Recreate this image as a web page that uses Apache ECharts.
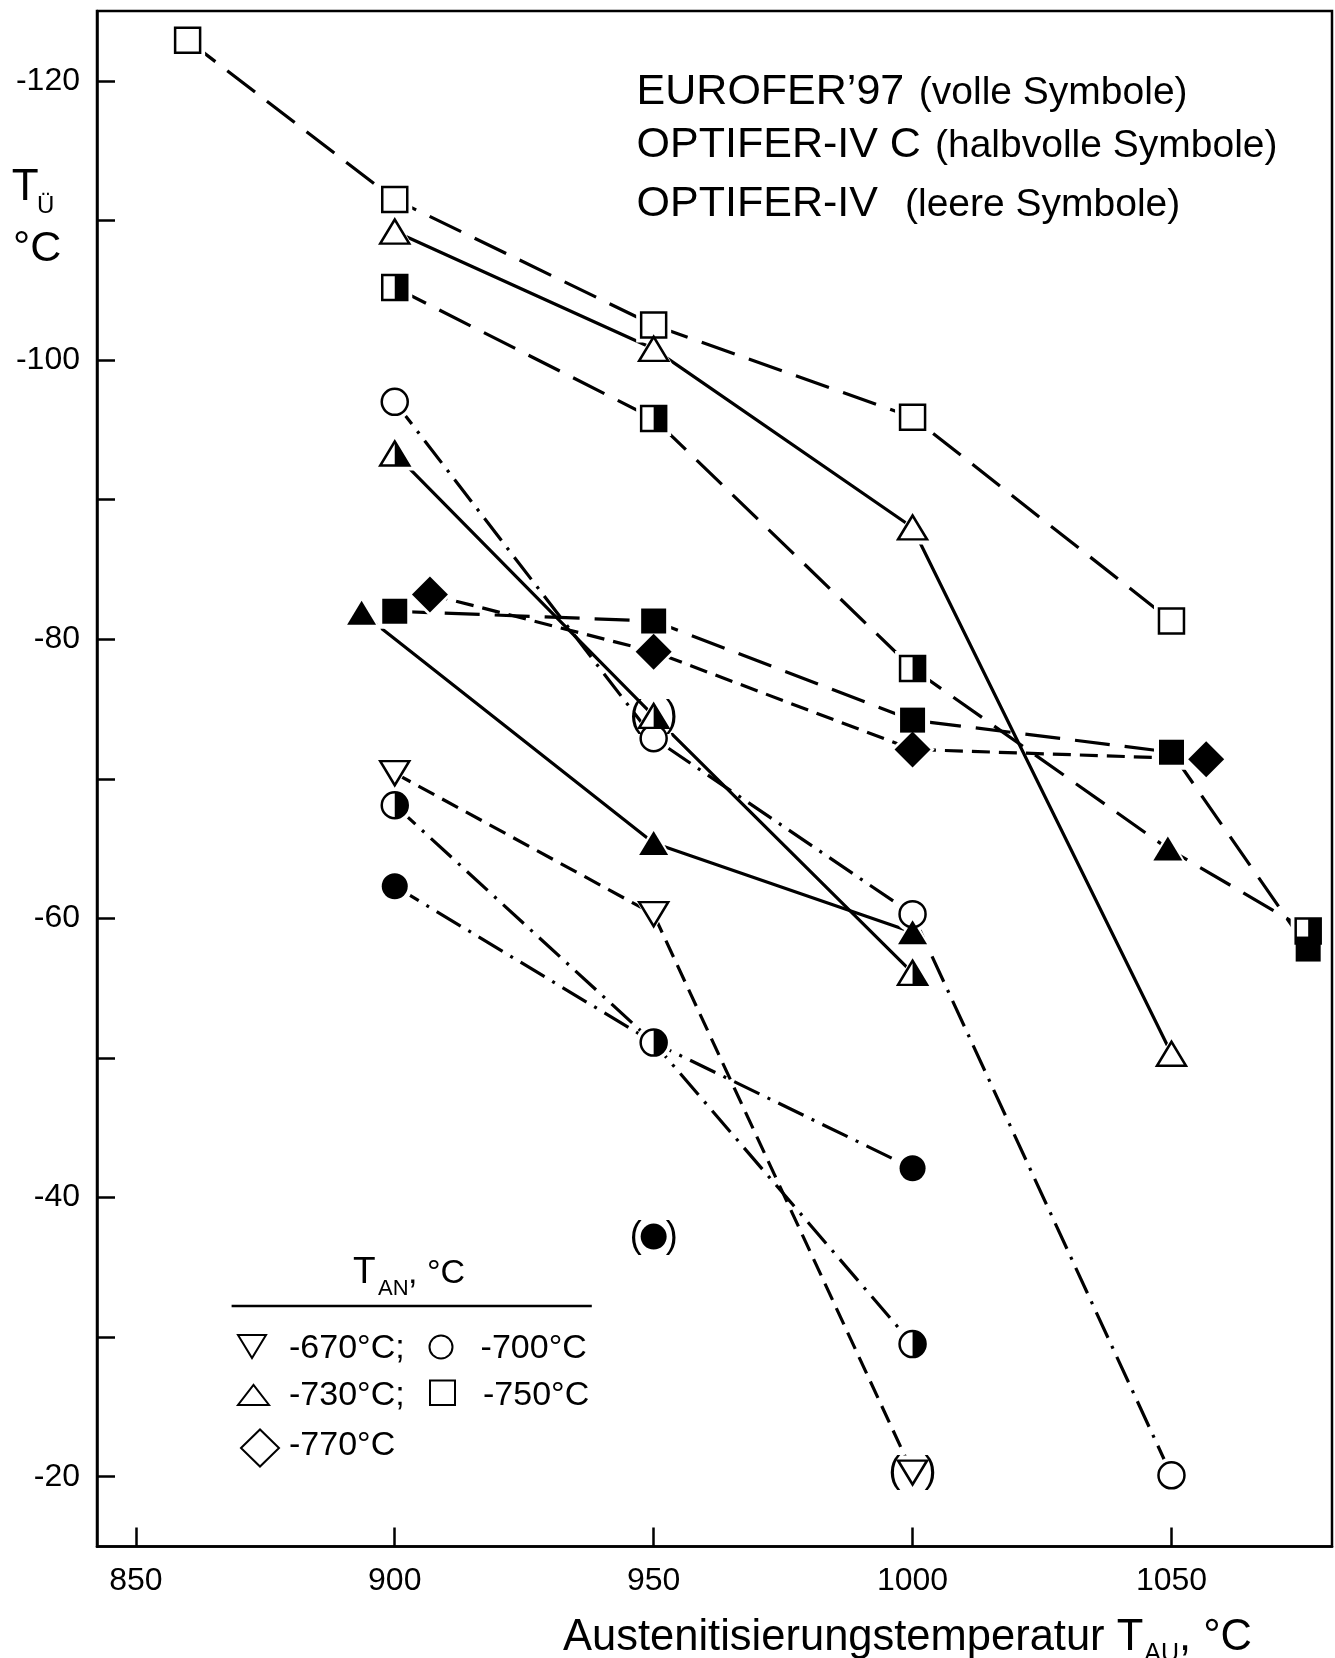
<!DOCTYPE html>
<html>
<head>
<meta charset="utf-8">
<script src="https://cdn.jsdelivr.net/npm/echarts@6/dist/echarts.min.js"></script>
<style>
html,body{margin:0;padding:0;background:#fff;}
#chart{width:1335px;height:1658px;}
</style>
</head>
<body>
<div id="chart"></div>
<script>
// ---------- tick values ----------
const X_LABELS = [850, 900, 950, 1000, 1050];
const Y_LABELS = [-120, -100, -80, -60, -40, -20];
const Y_TICKS = [-120, -110, -100, -90, -80, -70, -60, -50, -40, -30, -20];

// ---------- EUROFER'97 (volle Symbole) ----------
const eurofer750 = [[900, -82.0], [950, -81.3], [1000, -74.2], [1050, -71.9], [1076.4, -57.8]];
const eurofer770 = [[906.8, -83.2], [950, -79.1], [1000, -72.1], [1056.7, -71.4]];
const eurofer730 = [[893.6, -81.9], [950, -65.4], [1000, -59.0]];
const eurofer730Single = [[1049.3, -65.0]];
const eurofer700 = [[900, -62.3], [950, -37.2], [1000, -42.1]];
const eurofer700Line = [[900, -62.3], [950, -51.1], [1000, -42.1]];

// ---------- OPTIFER-IV C (halbvolle Symbole) ----------
const optifC750 = [[900, -105.2], [950, -95.8], [1000, -77.9], [1076.4, -59.1]];
const optifC750Line = [[900, -105.2], [950, -95.8], [1000, -77.9], [1049.3, -65.0], [1076.4, -59.1]];
const optifC730 = [[900, -93.3], [950, -74.5], [1000, -56.1]];
const optifC700 = [[900, -68.1], [950, -51.1], [1000, -29.5]];

// ---------- OPTIFER-IV (leere Symbole) ----------
const optif750 = [[860, -122.9], [900, -111.5], [950, -102.5], [1000, -95.9], [1050, -81.3]];
const optif730 = [[900, -109.2], [950, -100.8], [1000, -88.0], [1050, -50.3]];
const optif700 = [[900, -97.0], [950, -72.9], [1000, -60.3], [1050, -20.1]];
const optif670 = [[900, -70.4], [950, -60.3], [1000, -20.3]];

// points shown in brackets (x values)
const bracketOptifC730 = [950];
const bracketOptif670 = [1000];
const bracketEurofer700 = [950];

// ---------- styling ----------
const FONT = '"Liberation Sans", Arial, Helvetica, sans-serif';
const LONG = [35, 15], SHORT = [18, 9], DASHDOT = [28, 9, 3, 9];
const SYM = {
  square:  { symbol: 'rect', size: [25, 25] },
  tri:     { symbol: 'triangle', size: [29, 24] },
  invtri:  { symbol: 'path://M0,0L2,0L1,2Z', size: [29, 24] },
  circle:  { symbol: 'circle', size: [26, 26] },
  diamond: { symbol: 'diamond', size: [36, 36] }
};
const HALF = {
  square: 'path://M0,0L0,0ZM1,0L2,0L2,2L1,2Z',
  tri:    'path://M0,2L0,2ZM1,0L2,2L1,2Z',
  circle: 'path://M0,1L0,1ZM1,0A1,1,0,0,1,1,2Z'
};
const BRACKET_LABEL = {
  show: true, position: 'inside',
  formatter: '{p|(}{g| }{p|)}',
  rich: { p: { fontSize: 36, fontFamily: FONT, color: '#000' }, g: { width: 24, fontSize: 10 } }
};

function lineSeries(data, dash) {
  return { type: 'line', data: data, symbol: 'none', z: 2, silent: true,
    lineStyle: { color: '#000', width: 3.2, type: dash, opacity: 1 } };
}
function haloSeries(data, shape, pad) {
  const s = SYM[shape];
  return { type: 'scatter', z: 2.5, silent: true, symbol: s.symbol,
    symbolSize: [s.size[0] + pad, s.size[1] + pad], emphasis: { disabled: true },
    itemStyle: { color: '#fff', opacity: 1 }, data: data };
}
function markSeries(data, shape, kind, z, bracketX) {
  const s = SYM[shape];
  const br = bracketX || [];
  return { type: 'scatter', z: z, silent: true, symbol: s.symbol, symbolSize: s.size,
    emphasis: { disabled: true },
    itemStyle: kind === 'full' ? { color: '#000', opacity: 1 } : { color: '#fff', borderColor: '#000', borderWidth: 2.5, opacity: 1 },
    data: data.map(p => br.indexOf(p[0]) >= 0 ? { value: p, label: BRACKET_LABEL } : p) };
}
function halfOverlay(data, shape) {
  return { type: 'scatter', z: 4, silent: true, symbol: HALF[shape], symbolSize: SYM[shape].size,
    emphasis: { disabled: true }, itemStyle: { color: '#000', opacity: 1 }, data: data };
}

const series = [
  lineSeries(optif750, LONG), lineSeries(optif730, 'solid'), lineSeries(optif700, DASHDOT), lineSeries(optif670, SHORT),
  lineSeries(optifC750Line, LONG), lineSeries(optifC730, 'solid'), lineSeries(optifC700, DASHDOT),
  lineSeries(eurofer750, LONG), lineSeries(eurofer770, SHORT), lineSeries(eurofer730, 'solid'), lineSeries(eurofer700Line, DASHDOT),

  haloSeries(optif750, 'square', 10), haloSeries(optif730, 'tri', 10), haloSeries(optif700, 'circle', 10), haloSeries(optif670, 'invtri', 10),
  haloSeries(optifC750, 'square', 10), haloSeries(optifC730, 'tri', 10), haloSeries(optifC700, 'circle', 10),
  haloSeries(eurofer750, 'square', 10), haloSeries(eurofer770, 'diamond', 8), haloSeries(eurofer730, 'tri', 10),
  haloSeries(eurofer730Single, 'tri', 10), haloSeries(eurofer700, 'circle', 10),

  markSeries(optif750, 'square', 'open', 3), markSeries(optif730, 'tri', 'open', 3),
  markSeries(optif700, 'circle', 'open', 3), markSeries(optif670, 'invtri', 'open', 3, bracketOptif670),

  markSeries(optifC750, 'square', 'open', 3), halfOverlay(optifC750, 'square'),
  markSeries(optifC730, 'tri', 'open', 3, bracketOptifC730), halfOverlay(optifC730, 'tri'),
  markSeries(optifC700, 'circle', 'open', 3), halfOverlay(optifC700, 'circle'),

  markSeries(eurofer750, 'square', 'full', 5), markSeries(eurofer770, 'diamond', 'full', 5),
  markSeries(eurofer730, 'tri', 'full', 5), markSeries(eurofer730Single, 'tri', 'full', 5),
  markSeries(eurofer700, 'circle', 'full', 5, bracketEurofer700)
];

// ---------- free text helpers ----------
const mctx = document.createElement('canvas').getContext('2d');
function midOff(size) { mctx.font = size + 'px ' + FONT; mctx.textBaseline = 'middle'; return mctx.measureText('H').actualBoundingBoxDescent; }
function tw(str, size) { mctx.font = size + 'px ' + FONT; return mctx.measureText(str).width; }
function T(str, x, baseline, size) {
  return { type: 'text', x: x, y: baseline - midOff(size), z: 20, silent: true,
    style: { text: str, font: size + 'px ' + FONT, fill: '#000', textAlign: 'left', textVerticalAlign: 'middle' } };
}

const gx = 563;
const w1 = tw('Austenitisierungstemperatur T', 43.5);
const w2 = tw('AU', 25);
const graphics = [
  T('EUROFER\u201997', 636.6, 103.5, 43), T('(volle Symbole)', 918.8, 103.5, 39),
  T('OPTIFER-IV C', 636.6, 157, 43), T('(halbvolle Symbole)', 935, 157, 39),
  T('OPTIFER-IV', 636.6, 216, 43), T('(leere Symbole)', 905, 216, 39),
  T('T', 11.7, 200, 44), T('\u00dc', 37, 212.7, 24), T('\u00b0C', 13, 261, 43),
  T('Austenitisierungstemperatur T', gx, 1650, 43.5), T('AU', gx + w1 + 1, 1661, 25), T(', \u00b0C', gx + w1 + 1 + w2, 1650, 43.5),
  // legend
  T('T', 353, 1283, 37), T('AN', 378, 1295, 22), T(',', 408, 1283, 34), T('\u00b0C', 427, 1283, 34),
  { type: 'line', z: 20, silent: true, shape: { x1: 231.6, y1: 1306, x2: 591.8, y2: 1306 }, style: { stroke: '#000', lineWidth: 2.5 } },
  { type: 'polygon', z: 20, silent: true, shape: { points: [[238, 1335], [266, 1335], [252, 1358]] }, style: { fill: '#fff', stroke: '#000', lineWidth: 2 } },
  T('-670\u00b0C;', 289, 1358, 34),
  { type: 'circle', z: 20, silent: true, shape: { cx: 441, cy: 1347, r: 11.5 }, style: { fill: '#fff', stroke: '#000', lineWidth: 2 } },
  T('-700\u00b0C', 480.6, 1358, 34),
  { type: 'polygon', z: 20, silent: true, shape: { points: [[238, 1405], [269, 1405], [253.5, 1385]] }, style: { fill: '#fff', stroke: '#000', lineWidth: 2 } },
  T('-730\u00b0C;', 289, 1405, 34),
  { type: 'rect', z: 20, silent: true, shape: { x: 430, y: 1380.5, width: 25, height: 24.5 }, style: { fill: '#fff', stroke: '#000', lineWidth: 2 } },
  T('-750\u00b0C', 483, 1405, 34),
  { type: 'polygon', z: 20, silent: true, shape: { points: [[241, 1448], [260, 1429.5], [279, 1448], [260, 1466.5]] }, style: { fill: '#fff', stroke: '#000', lineWidth: 2 } },
  T('-770\u00b0C', 289, 1455, 34)
];

const chart = echarts.init(document.getElementById('chart'), null, { renderer: 'canvas' });
chart.setOption({
  animation: false,
  backgroundColor: '#fff',
  grid: { left: 97, right: 3, top: 11, bottom: 111.5, show: true, borderColor: '#000', borderWidth: 2.5,
    backgroundColor: 'transparent', containLabel: false, outerBoundsMode: 'none' },
  xAxis: {
    type: 'value', min: 842.5, max: 1081,
    axisLine: { show: true, onZero: false, lineStyle: { color: '#000', width: 2.5 } },
    axisTick: { show: true, inside: true, length: 19, customValues: X_LABELS, lineStyle: { color: '#000', width: 2.5 } },
    axisLabel: { show: true, customValues: X_LABELS, formatter: v => String(v), fontSize: 32, fontFamily: FONT, color: '#000', margin: 19 },
    splitLine: { show: false }
  },
  yAxis: {
    type: 'value', inverse: true, min: -125, max: -15,
    axisLine: { show: true, onZero: false, lineStyle: { color: '#000', width: 2.5 } },
    axisTick: { show: true, inside: true, length: 18, customValues: Y_TICKS, lineStyle: { color: '#000', width: 2.5 } },
    axisLabel: { show: true, customValues: Y_LABELS, formatter: v => String(v), fontSize: 32, fontFamily: FONT, color: '#000', margin: 17 },
    splitLine: { show: false }
  },
  graphic: { elements: graphics },
  series: series
});
</script>
</body>
</html>
